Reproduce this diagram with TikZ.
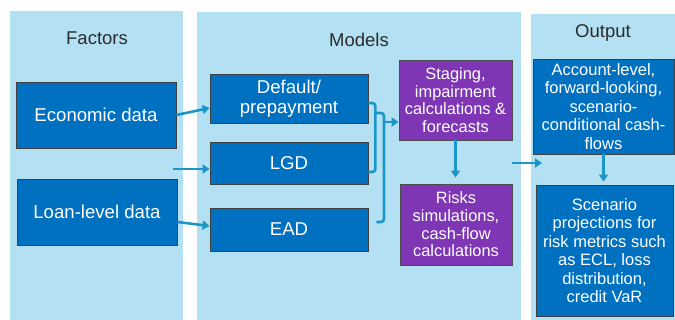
\documentclass[tikz,border=0pt]{standalone}
\usepackage{fontspec}
\setmainfont{Liberation Sans}
\usetikzlibrary{arrows.meta,calc}
\definecolor{panelbg}{HTML}{B3E1F3}
\definecolor{boxblue}{HTML}{0070C0}
\definecolor{boxpurple}{HTML}{7F36B4}
\definecolor{linkblue}{HTML}{1C96C9}
\definecolor{titlegray}{HTML}{2B2B2B}
\tikzset{
  panel/.style={fill=panelbg, draw=none},
  paneltitle/.style={text=titlegray, font=\fontsize{18.5}{20}\selectfont, inner sep=0pt},
  bluebox/.style={draw=black!75, line width=0.8pt, fill=boxblue, text=white, align=center,
    inner sep=0pt, font=\fontsize{18.6}{20}\selectfont},
  purplebox/.style={draw=black!70, line width=0.8pt, fill=boxpurple, text=white, align=center,
    inner sep=0pt, font=\fontsize{16.4}{17.7}\selectfont},
  outbox/.style={draw=black!75, line width=0.8pt, fill=boxblue, text=white, align=center,
    inner sep=0pt, font=\fontsize{16.5}{18.5}\selectfont},
  link/.style={draw=linkblue, line width=2.6pt},
  flow/.style={link, -{Triangle[length=7pt,width=9pt]}},
}
\begin{document}
\begin{tikzpicture}[x=1pt,y=-1pt]
\useasboundingbox (0,0) rectangle (675,320);
\fill[white] (0,0) rectangle (675,320);

% column panels
\fill[panel] (10,11) rectangle (183,320);
\fill[panel] (197,12) rectangle (521,320);
\fill[panel] (531,14) rectangle (675,320);
\node[paneltitle] (tf) at (97,38) {Factors};
\node[paneltitle] (tm) at (359,40) {Models};
\node[paneltitle] (to) at (603,33) {Output};

% factors
\node[bluebox, minimum width=160pt, minimum height=66pt] (eco) at (96,115) {Economic data};
\node[bluebox, minimum width=160pt, minimum height=66pt] (loan) at (97,212) {Loan-level data};

% models
\node[bluebox, minimum width=158pt, minimum height=49pt] (def) at (289,98.5) {Default/\\prepayment};
\node[bluebox, minimum width=158pt, minimum height=42pt] (lgd) at (289,163) {LGD};
\node[bluebox, minimum width=158pt, minimum height=43pt] (ead) at (289,229.5) {EAD};
\node[purplebox, minimum width=113pt, minimum height=80pt] (stg) at (455.5,100)
  {Staging,\\impairment\\calculations \&\\forecasts};
\node[purplebox, minimum width=112pt, minimum height=81pt] (risk) at (456,224.5)
  {Risks\\simulations,\\cash-flow\\calculations};

% output
\node[outbox, minimum width=141pt, minimum height=95pt] (acc) at (603.5,106.5)
  {Account-level,\\forward-looking,\\scenario-\\conditional cash-\\flows};
\node[outbox, minimum width=137pt, minimum height=131pt] (scen) at (604.5,250.5)
  {Scenario\\projections for\\risk metrics such\\as ECL, loss\\distribution,\\credit VaR};

% factor inputs
\coordinate (lgdin) at (173,169);
\draw[flow] (eco.east) -- ([yshift=-9.5pt]def.west);
\draw[flow] (lgdin) -- (lgdin -| lgd.west);
\draw[flow] ([yshift=-10pt]loan.east) -- ([yshift=3.5pt]ead.west);

% model outputs gathered by brackets
\coordinate (j1) at (375,113);
\coordinate (j2) at (384,122);
\draw[link, rounded corners=3pt] ([yshift=-4.5pt]def.east) -- ++(7,0) |- ([yshift=-9pt]lgd.east);
\draw[link, rounded corners=3pt] (j1) -- (j1 -| j2) |- ([xshift=8pt,yshift=7.5pt]ead.east);
\draw[flow] (j2) -- (j2 -| stg.west);
\draw[flow, shorten >=6pt] (stg.south) -- (stg.south |- risk.north);

% models to output
\coordinate (mo1) at (512,163);
\coordinate (mo2) at (542,163);
\draw[flow] (mo1) -- (mo2);
\draw[flow, shorten >=3pt] (acc.south) -- (acc.south |- scen.north);
\end{tikzpicture}
\end{document}
